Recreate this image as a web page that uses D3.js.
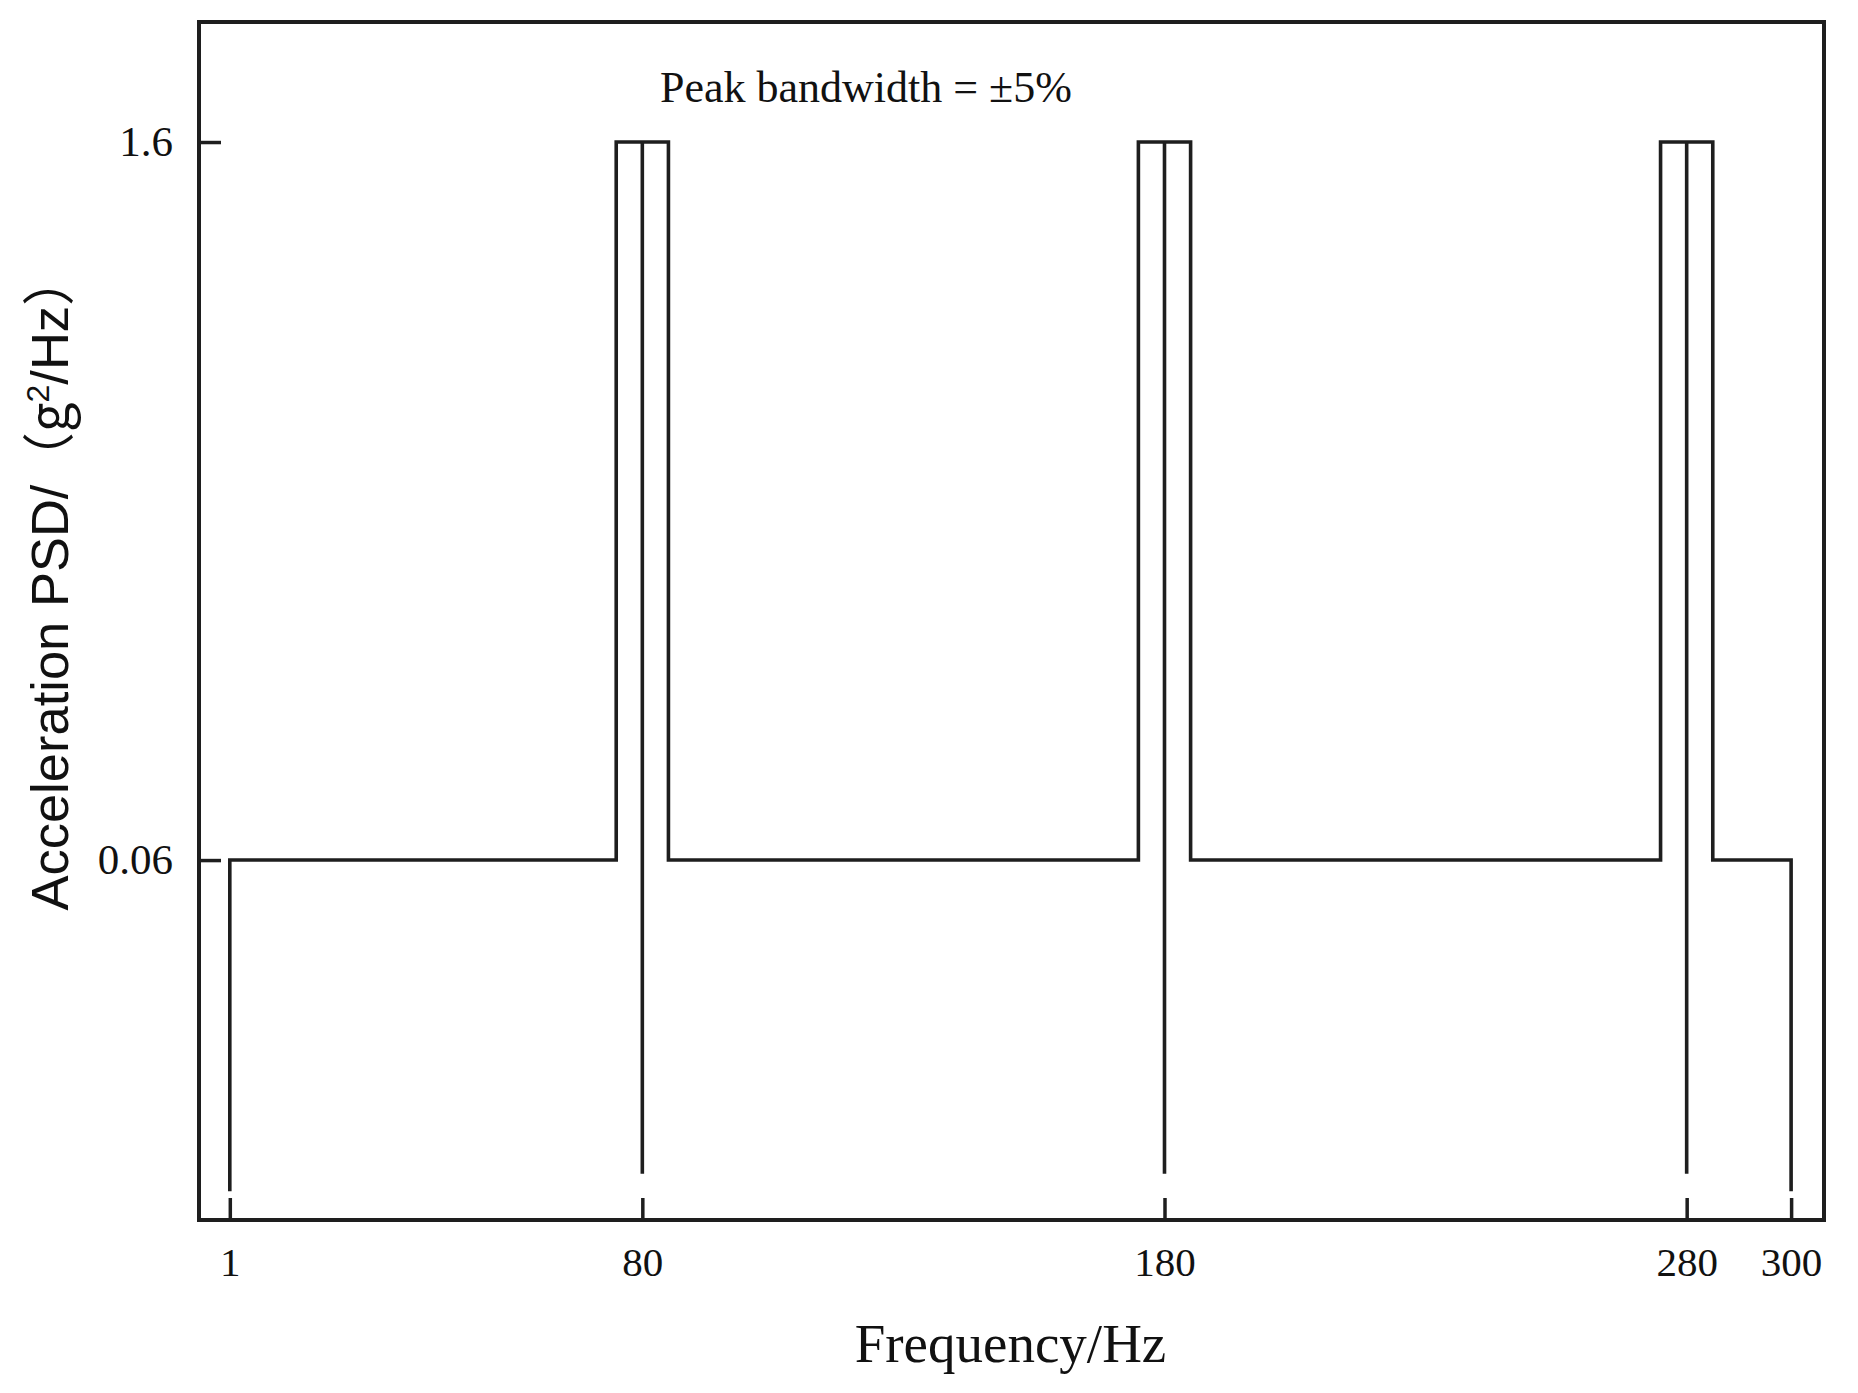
<!DOCTYPE html>
<html>
<head>
<meta charset="utf-8">
<script src="https://cdn.jsdelivr.net/npm/d3@7"></script>
<style>
  body { margin: 0; background: #fff; }
  svg { display: block; }
</style>
</head>
<body>
<svg id="chart" width="1858" height="1393"></svg>
<script>
// breakpoints of the PSD profile (Hz, g^2/Hz)
var profileFreq = [1, 1, 75, 75, 85, 85, 175, 175, 185, 185, 275, 275, 285, 285, 300, 300];
var profilePSD  = [0.0132, 0.06, 0.06, 1.6, 1.6, 0.06, 0.06, 1.6, 1.6, 0.06, 0.06, 1.6, 1.6, 0.06, 0.06, 0.0132];

// centre lines of the peaks
var peakFreq = [80, 180, 280];
var peakTop = 1.6;
var peakBottom = 0.0143;

var xTicks = [1, 80, 180, 280, 300];
var yTicks = [0.06, 1.6];

var svg = d3.select("#chart");
var frame = { left: 199, top: 22, right: 1824, bottom: 1220 };
var ink = "#1e1e1e";

svg.append("rect").attr("width", 1858).attr("height", 1393).attr("fill", "#fff");

var x = d3.scaleLinear()
    .domain([-4.9, 306.3])
    .range([frame.left, frame.right]);

var y = d3.scaleLog()
    .domain([0.01157, 2.77])
    .range([frame.bottom, frame.top]);

//x axis, ticks pointing inward
var xAxis = d3.axisBottom(x)
    .tickValues(xTicks)
    .tickSize(-22)
    .tickPadding(27)
    .tickFormat(d3.format("d"));
var gx = svg.append("g")
    .attr("transform", "translate(0," + frame.bottom + ")")
    .call(xAxis);
gx.select(".domain").remove();
gx.selectAll("line").attr("stroke", ink).attr("stroke-width", 3.5);
gx.selectAll("text")
    .attr("fill", "#111")
    .style("font-family", "'Liberation Serif', 'Times New Roman', serif")
    .style("font-size", "41px");

//y axis
var yAxis = d3.axisLeft(y)
    .tickValues(yTicks)
    .tickSize(-22)
    .tickPadding(26)
    .tickFormat(function(d) { return d; });
var gy = svg.append("g")
    .attr("transform", "translate(" + frame.left + ",0)")
    .call(yAxis);
gy.select(".domain").remove();
gy.selectAll("line").attr("stroke", ink).attr("stroke-width", 3.5);
gy.selectAll("text")
    .attr("fill", "#111")
    .style("font-family", "'Liberation Serif', 'Times New Roman', serif")
    .style("font-size", "43px");

//profile line
var line = d3.line()
    .x(function(d) { return x(d[0]); })
    .y(function(d) { return y(d[1]); });
var pts = profileFreq.map(function(f, i) { return [f, profilePSD[i]]; });
svg.append("path")
    .datum(pts)
    .attr("d", line)
    .attr("fill", "none")
    .attr("stroke", ink)
    .attr("stroke-width", 3.6)
    .attr("stroke-linejoin", "miter");

//centre lines
svg.selectAll(".centre")
    .data(peakFreq)
    .enter()
    .append("line")
    .attr("class", "centre")
    .attr("x1", function(d) { return x(d); })
    .attr("x2", function(d) { return x(d); })
    .attr("y1", y(peakTop))
    .attr("y2", y(peakBottom))
    .attr("stroke", ink)
    .attr("stroke-width", 3.6);

//frame
svg.append("rect")
    .attr("x", frame.left)
    .attr("y", frame.top)
    .attr("width", frame.right - frame.left)
    .attr("height", frame.bottom - frame.top)
    .attr("fill", "none")
    .attr("stroke", ink)
    .attr("stroke-width", 4);

//annotation
svg.append("text")
    .attr("x", 660)
    .attr("y", 102)
    .style("font-family", "'Liberation Serif', 'Times New Roman', serif")
    .style("font-size", "44px")
    .attr("fill", "#111")
    .text("Peak bandwidth = ±5%");

//axis titles
svg.append("text")
    .attr("x", (frame.left + frame.right) / 2 - 1)
    .attr("y", 1362)
    .attr("text-anchor", "middle")
    .style("font-family", "'Liberation Serif', 'Times New Roman', serif")
    .style("font-size", "55px")
    .attr("fill", "#111")
    .text("Frequency/Hz");

var yt = svg.append("text")
    .attr("transform", "translate(68,582) rotate(-90)")
    .attr("text-anchor", "middle")
    .style("font-family", "'Liberation Sans', Arial, 'Noto Sans CJK SC', sans-serif")
    .style("font-size", "52.5px")
    .attr("fill", "#111");
yt.append("tspan").text("Acceleration PSD/");
yt.append("tspan").style("font-family", "'Noto Sans CJK SC', sans-serif").text("（g");
yt.append("tspan").attr("dy", -19).style("font-size", "32px").text("2");
yt.append("tspan").attr("dy", 19).text("/Hz");
yt.append("tspan").style("font-family", "'Noto Sans CJK SC', sans-serif").text("）");
</script>
</body>
</html>
